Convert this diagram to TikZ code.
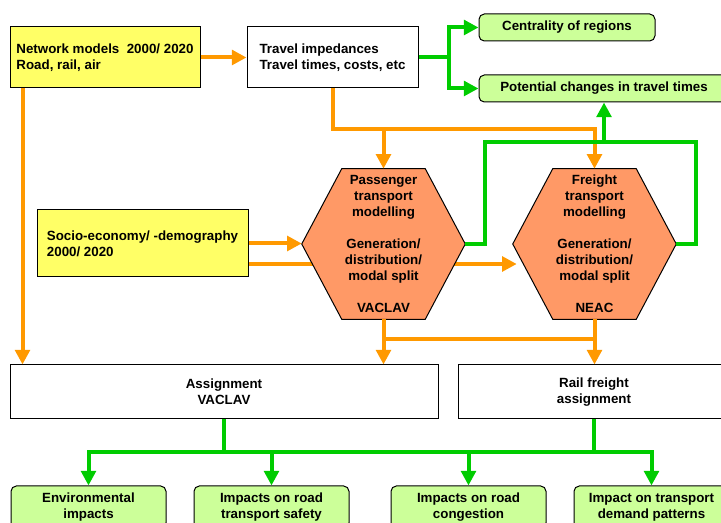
\documentclass[tikz,border=0pt]{standalone}
\usepackage{fontspec}
\setmainfont{Liberation Sans}
\usetikzlibrary{positioning,arrows.meta,calc}
\pgfdeclarelayer{back}
\pgfdeclarelayer{hex}
\pgfsetlayers{back,hex,main}
\newcommand{\pxu}{0.75pt}
\definecolor{inyellow}{HTML}{FFFF66}
\definecolor{outgreen}{HTML}{CCFF99}
\definecolor{hexorange}{HTML}{FF9966}
\definecolor{oflow}{HTML}{FF9900}
\definecolor{gflow}{HTML}{00CC00}

\begin{document}
\begin{tikzpicture}[x=\pxu,y=-\pxu,
  every node/.style={font=\bfseries\fontsize{10}{12}\selectfont,inner sep=0pt},
  sz/.style 2 args={minimum width=#1*\pxu,minimum height=#2*\pxu},
  box/.style={draw,line width=0.75pt,align=center},
  inbox/.style={box,fill=inyellow,align=left},
  outbox/.style={box,fill=outgreen,rounded corners=4pt},
  hexnode/.style={align=center,sz={163}{150}},
  hexa/.style={draw,line width=0.75pt,fill=hexorange},
  oline/.style={draw=oflow,line width=3pt},
  oarrow/.style={oline,-{Triangle[length=11pt,width=11pt]}},
  gline/.style={draw=gflow,line width=3pt},
  garrow/.style={gline,-{Triangle[length=11pt,width=11pt]}}
]
  \useasboundingbox (0,0) rectangle (721,523);
  \clip (0,0) rectangle (721,523);

  % inputs and first results
  \node[inbox,sz={190}{61}] (net) at (105,57.5) {Network models\ \ 2000/ 2020\\Road, rail, air};
  \node[box,align=left,sz={171}{61}] (tim) at (332.5,57.5) {Travel impedances\\Travel times, costs, etc};
  \node[outbox,sz={176}{27}] (cen) at (567,27.5) {Centrality of regions};
  \node[outbox,sz={250}{27}] (pot) at (604,88.5) {Potential changes in travel times};
  \node[inbox,sz={211}{67}] (soc) at (142.5,243.5) {Socio-economy/ -demography\\2000/ 2020};

  % models
  \node[hexnode] (pas) at (383.5,244) {Passenger\\transport\\modelling\\[12pt]Generation/\\distribution/\\modal split\\[12pt]VACLAV};
  \node[hexnode] (frt) at (594.5,244) {Freight\\transport\\modelling\\[12pt]Generation/\\distribution/\\modal split\\[12pt]NEAC};
  \begin{pgfonlayer}{hex}
    \foreach \h in {pas,frt}
      \draw[hexa] (\h.west) -- ($(\h.north west)+(40,0)$) -- ($(\h.north east)+(-40,0)$)
        -- (\h.east) -- ($(\h.south east)+(-40,0)$) -- ($(\h.south west)+(40,0)$) -- cycle;
  \end{pgfonlayer}

  % assignment and impacts
  \node[box,sz={428}{54}] (asg) at (224,392) {Assignment\\VACLAV};
  \node[box,sz={272}{54}] (rfa) at (594,392) {Rail freight\\assignment};
  \node[outbox,sz={155}{42}] (env) at (88.5,507) {Environmental\\impacts};
  \node[outbox,sz={155}{42}] (saf) at (271.5,507) {Impacts on road\\transport safety};
  \node[outbox,sz={155}{42}] (con) at (468.5,507) {Impacts on road\\congestion};
  \node[outbox,sz={155}{42}] (dem) at (651.5,507) {Impact on transport\\demand patterns};

  % orange flows
  \draw[oarrow] (net) -- (tim);
  \coordinate (nd) at ($(net.south west)+(13,0)$);
  \draw[oarrow] (nd) -- (nd |- asg.north);
  \coordinate (tj) at ($(tim.south)+(0,41)$);
  \draw[oarrow] (tim.south) -- (tj) -| (frt.north);
  \draw[oarrow] (pas.north |- tj) -- (pas.north);
  \draw[oarrow] (soc.east) -- (soc.east -| pas.west);
  \coordinate (sl) at ($(soc.east)+(0,20.5)$);
  \coordinate (fl) at ($(frt.west)+(4,20)$);
  \begin{pgfonlayer}{back}
    \draw[oarrow] (sl) -- (sl -| fl);
  \end{pgfonlayer}
  \draw[oarrow] (pas.south) -- (pas.south |- asg.north);
  \draw[oarrow] (frt.south) -- (frt.south |- rfa.north);
  \draw[oline] ($(pas.south)+(0,20)$) -- ($(frt.south)+(0,20)$);

  % green flows
  \draw[garrow] (tim.east) -- ++(30,0) |- (cen.west);
  \draw[garrow] (tim.east) -- ++(30,0) |- (pot.west);
  \coordinate (gtop) at ($(frt.east)+(20,-102)$);
  \draw[gline] (pas.east) -- ++(20,0) |- (gtop) |- (frt.east);
  \draw[garrow] (pot.south |- gtop) -- (pot.south);
  \coordinate (bj) at ($(asg.south)+(0,33)$);
  \draw[gline] (asg.south) -- (bj);
  \draw[gline] (rfa.south) -- (rfa.south |- bj);
  \draw[gline,line cap=rect] (env.north |- bj) -- (dem.north |- bj);
  \foreach \n in {env,saf,con,dem}
    \draw[garrow] (\n.north |- bj) -- (\n.north);
\end{tikzpicture}
\end{document}
